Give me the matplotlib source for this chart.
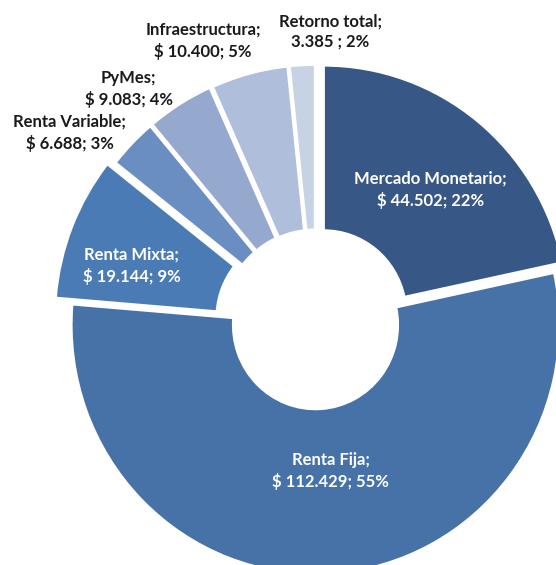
import matplotlib

matplotlib.use("Agg")
import matplotlib.pyplot as plt
import numpy as np

categories = [
    "Mercado Monetario",
    "Renta Fija",
    "Renta Mixta",
    "Renta Variable",
    "PyMes",
    "Infraestructura",
    "Retorno total",
]
values = [44502, 112429, 19144, 6688, 9083, 10400, 3385]
currency = ["$ ", "$ ", "$ ", "$ ", "$ ", "$ ", ""]
value_sep = ["; ", "; ", "; ", "; ", "; ", "; ", " ; "]

colors = ["#375887", "#4672A8", "#4A7BB5", "#6A8EC2", "#95A9CF", "#AFBFDB", "#C8D2E5"]
explode = [0.054, 0.0, 0.073, 0.047, 0.047, 0.045, 0.045]
inside = [True, True, True, False, False, False, False]
# label anchor: (angle deg, radius) in pie units
label_polar = [(49, 0.72), (-84, 0.59), (162.5, 0.79), (142.5, 1.27),
               (128.9, 1.22), (112, 1.23), (87, 1.18)]

W, H, DPI = 556, 565, 100
CX, CY = 315.5, 240.0   # pie centre, px from left / bottom
RX, RY = 244.0, 249.0   # px per pie unit


def fmt_thousands(v):
    return f"{v:,}".replace(",", ".")


def main():
    plt.rcParams["font.family"] = ["Lato", "DejaVu Sans"]
    fig = plt.figure(figsize=(W / DPI, H / DPI), dpi=DPI)
    ax = fig.add_axes([0, 0, 1, 1])

    ax.pie(
        values,
        colors=colors,
        explode=explode,
        startangle=90,
        counterclock=False,
        radius=1.0,
        wedgeprops=dict(width=0.662, edgecolor="white", linewidth=1.6),
    )
    ax.set_aspect("auto")
    ax.set_xlim(-CX / RX, (W - CX) / RX)
    ax.set_ylim(-CY / RY, (H - CY) / RY)
    ax.axis("off")

    total = sum(values)
    for i, name in enumerate(categories):
        pct = round(values[i] / total * 100)
        txt = f"{name};\n{currency[i]}{fmt_thousands(values[i])}{value_sep[i]}{pct}%"
        ang, r = label_polar[i]
        x = r * np.cos(np.radians(ang))
        y = r * np.sin(np.radians(ang))
        ax.text(
            x, y, txt,
            ha="center", va="center",
            fontsize=12, fontweight="bold",
            color="white" if inside[i] else "#1a1a1a",
            linespacing=1.36,
        )

    fig.savefig("out.png", dpi=DPI, facecolor="white")
    plt.close(fig)


if __name__ == "__main__":
    main()
